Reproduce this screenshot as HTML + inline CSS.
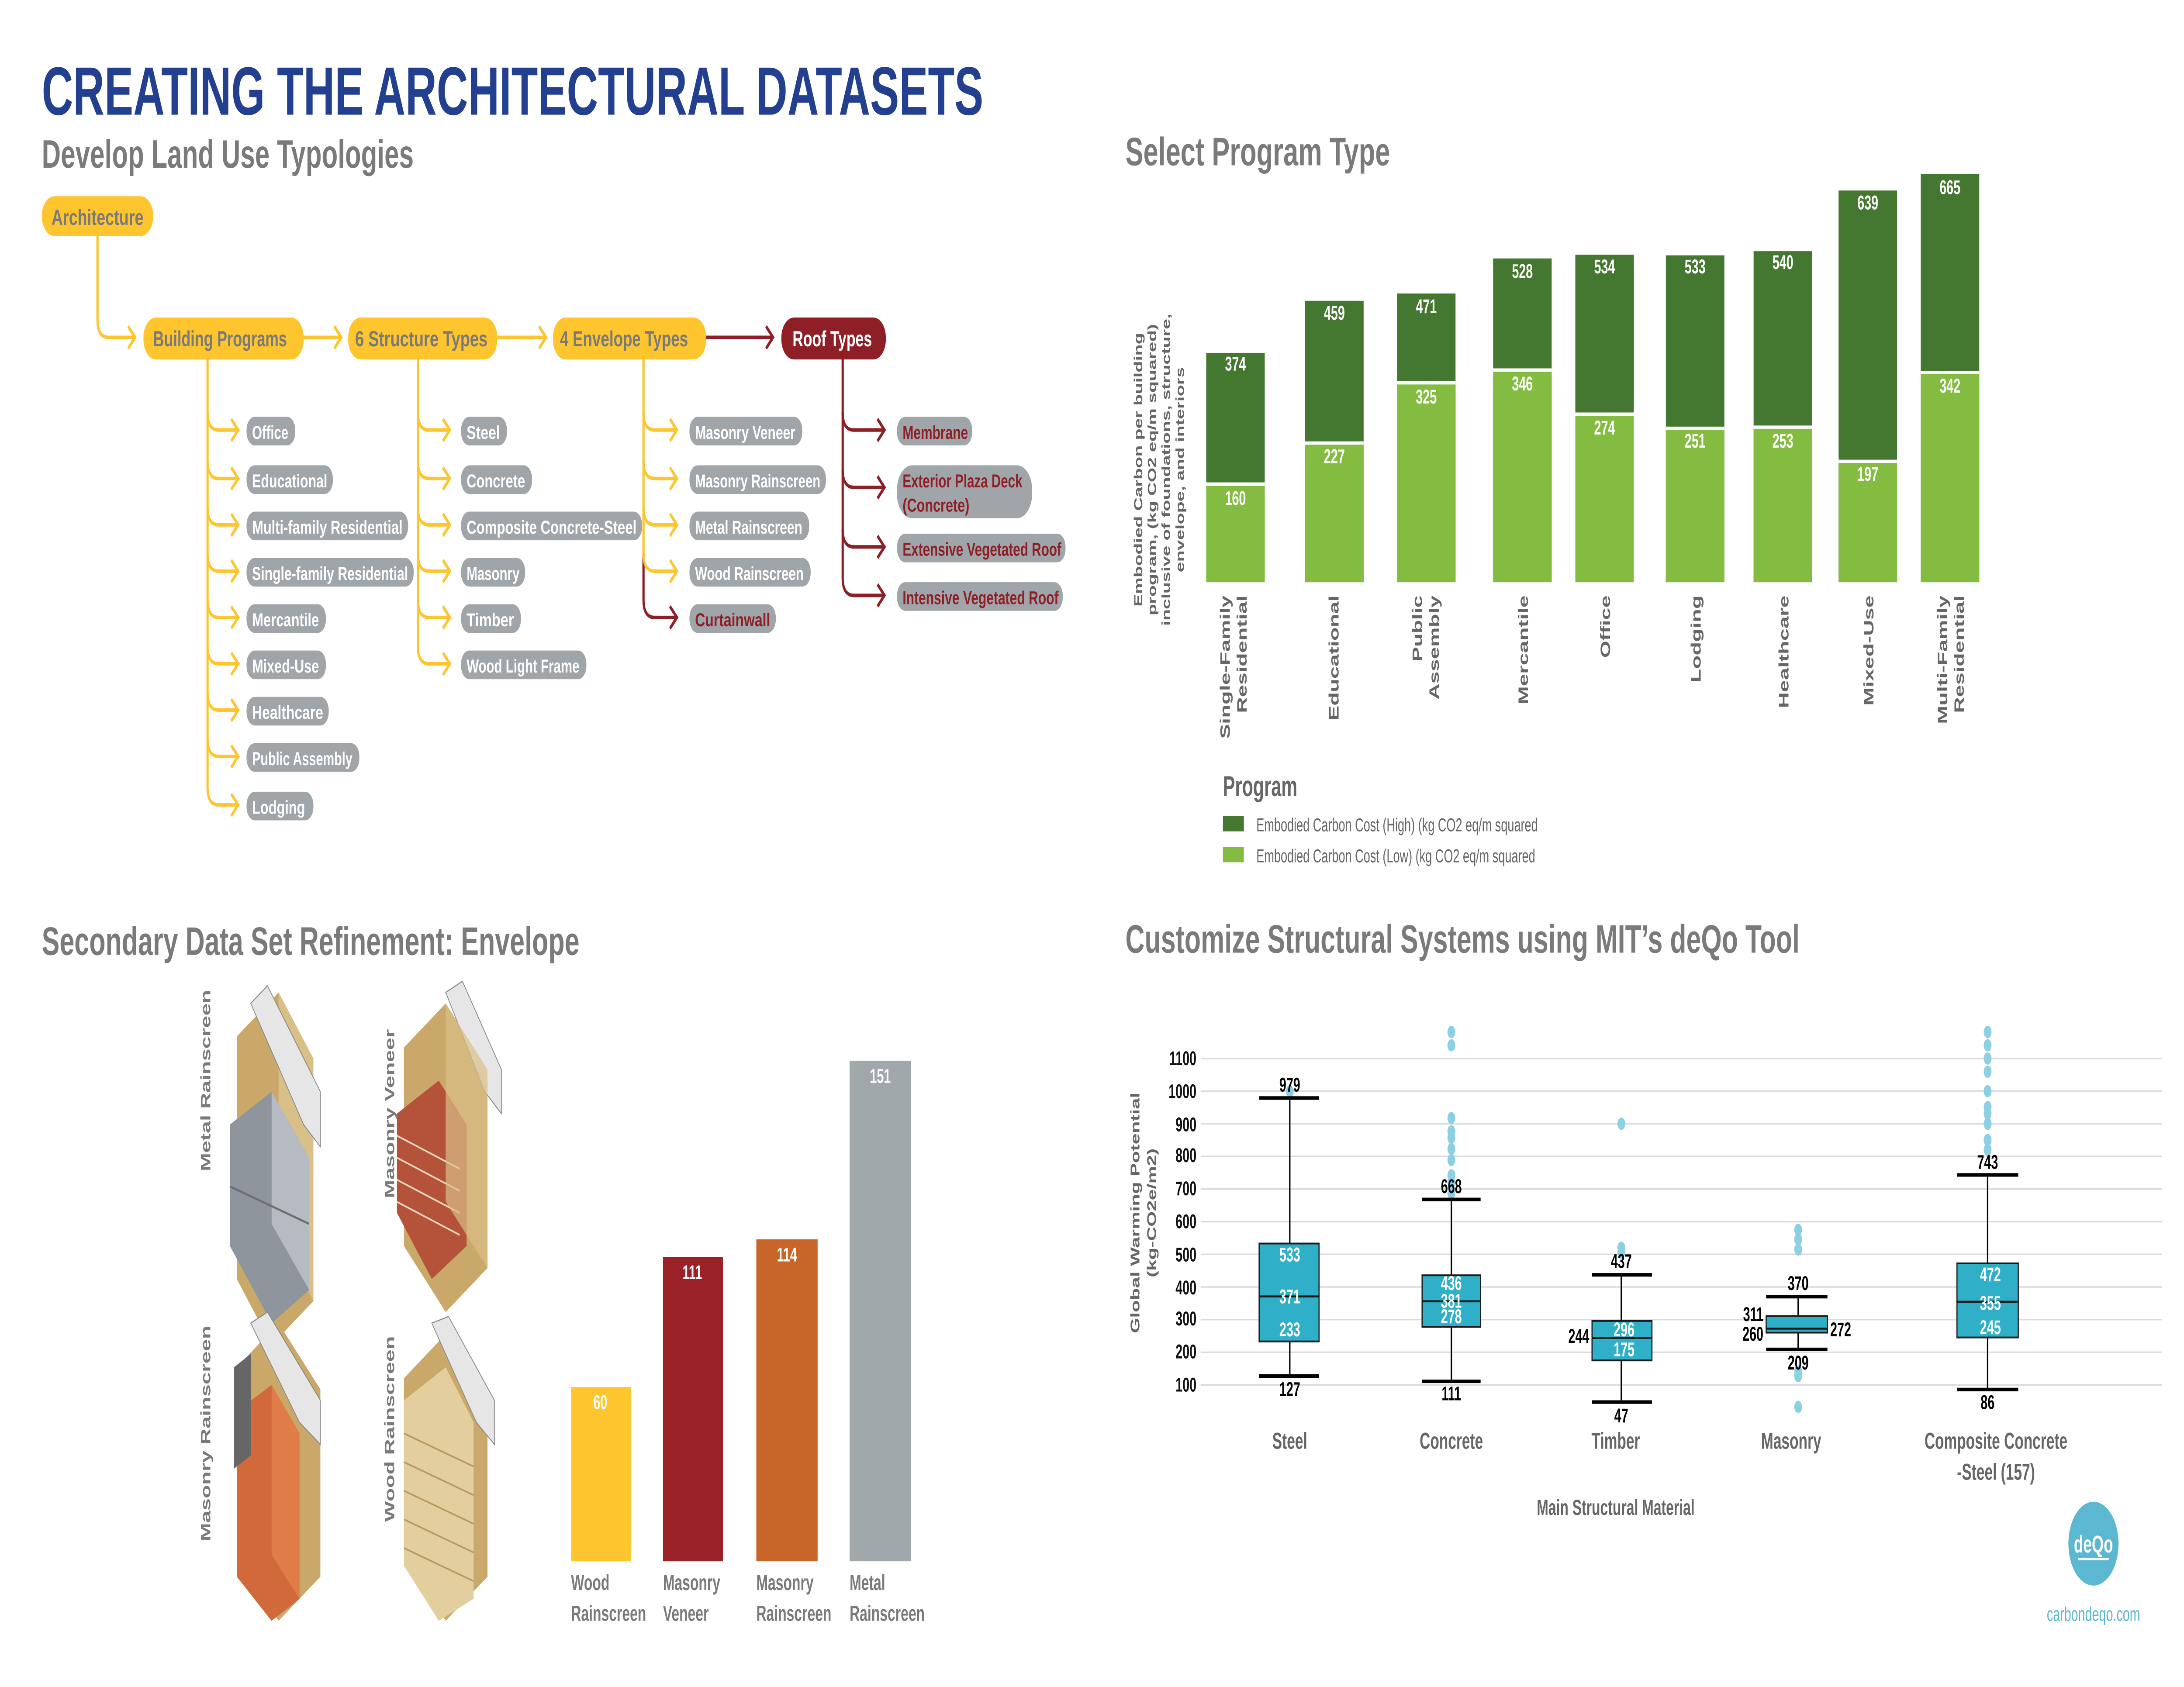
<!DOCTYPE html>
<html><head><meta charset="utf-8"><style>html,body{margin:0;padding:0;background:#fff;width:100vw;height:100vh;overflow:hidden}svg{display:block;position:absolute;left:0;top:0;width:100vw;height:100vh}</style></head>
<body>
<svg viewBox="0 0 1568 765" preserveAspectRatio="none" xmlns="http://www.w3.org/2000/svg" font-family="Liberation Sans, sans-serif" font-weight="bold">
<rect width="1568" height="765" fill="#fff"/>
<text x="30" y="52" font-size="31" fill="#233f8f" textLength="676" lengthAdjust="spacingAndGlyphs">CREATING THE ARCHITECTURAL DATASETS</text>
<text x="30" y="76" font-size="18" fill="#7a7a7a" textLength="267" lengthAdjust="spacingAndGlyphs">Develop Land Use Typologies</text>
<text x="808" y="75" font-size="18" fill="#7a7a7a" textLength="190" lengthAdjust="spacingAndGlyphs">Select Program Type</text>
<text x="30" y="433" font-size="18" fill="#7a7a7a" textLength="386" lengthAdjust="spacingAndGlyphs">Secondary Data Set Refinement: Envelope</text>
<text x="808" y="432" font-size="18" fill="#7a7a7a" textLength="484" lengthAdjust="spacingAndGlyphs">Customize Structural Systems using MIT’s deQo Tool</text>

<g fill="none" stroke-width="1.6">
<path d="M70 107 V145 Q70 153 78 153 H96" stroke="#fec52e"/><path d="M92 148 L97 153 L92 158" stroke="#fec52e"/>
<path d="M218 153 H244" stroke="#fec52e"/><path d="M240 148 L245 153 L240 158" stroke="#fec52e"/>
<path d="M357 153 H391" stroke="#fec52e"/><path d="M387 148 L392 153 L387 158" stroke="#fec52e"/>
<path d="M507 153 H554" stroke="#8e1f26"/><path d="M550 148 L555 153 L550 158" stroke="#8e1f26"/>
<path d="M149 162 V357" stroke="#fec52e"/>
<path d="M300 162 V293" stroke="#fec52e"/>
<path d="M462 162 V251" stroke="#fec52e"/>
<path d="M462 251 V272" stroke="#8e1f26"/>
<path d="M605 162 V262" stroke="#8e1f26"/>
</g>
<g fill="none" stroke-width="1.6" stroke="#fec52e">
<path d="M149 187 Q149 195 157 195 H170 M166 190 L171 195 L166 200"/>
<path d="M149 209 Q149 217 157 217 H170 M166 212 L171 217 L166 222"/>
<path d="M149 230 Q149 238 157 238 H170 M166 233 L171 238 L166 243"/>
<path d="M149 251 Q149 259 157 259 H170 M166 254 L171 259 L166 264"/>
<path d="M149 272 Q149 280 157 280 H170 M166 275 L171 280 L166 285"/>
<path d="M149 293 Q149 301 157 301 H170 M166 296 L171 301 L166 306"/>
<path d="M149 314 Q149 322 157 322 H170 M166 317 L171 322 L166 327"/>
<path d="M149 335 Q149 343 157 343 H170 M166 338 L171 343 L166 348"/>
<path d="M149 357 Q149 365 157 365 H170 M166 360 L171 365 L166 370"/>
<path d="M300 187 Q300 195 308 195 H322 M318 190 L323 195 L318 200"/>
<path d="M300 209 Q300 217 308 217 H322 M318 212 L323 217 L318 222"/>
<path d="M300 230 Q300 238 308 238 H322 M318 233 L323 238 L318 243"/>
<path d="M300 251 Q300 259 308 259 H322 M318 254 L323 259 L318 264"/>
<path d="M300 272 Q300 280 308 280 H322 M318 275 L323 280 L318 285"/>
<path d="M300 293 Q300 301 308 301 H322 M318 296 L323 301 L318 306"/>
<path d="M462 187 Q462 195 470 195 H485 M481 190 L486 195 L481 200"/>
<path d="M462 209 Q462 217 470 217 H485 M481 212 L486 217 L481 222"/>
<path d="M462 230 Q462 238 470 238 H485 M481 233 L486 238 L481 243"/>
<path d="M462 251 Q462 259 470 259 H485 M481 254 L486 259 L481 264"/>
</g>
<g fill="none" stroke-width="1.6" stroke="#8e1f26">
<path d="M462 272 Q462 280 470 280 H485 M481 275 L486 280 L481 285"/>
<path d="M605 187 Q605 195 613 195 H634 M630 190 L635 195 L630 200"/>
<path d="M605 213 Q605 221 613 221 H634 M630 216 L635 221 L630 226"/>
<path d="M605 240 Q605 248 613 248 H634 M630 243 L635 248 L630 253"/>
<path d="M605 262 Q605 270 613 270 H634 M630 265 L635 270 L630 275"/>
</g>
<g font-size="10">
<rect x="30" y="89" width="80" height="18" rx="9" fill="#fec52e"/><text x="37" y="102" fill="#7a7a7a" textLength="66" lengthAdjust="spacingAndGlyphs">Architecture</text>
<rect x="103" y="144" width="115" height="19" rx="9" fill="#fec52e"/><text x="110" y="157" fill="#7a7a7a" textLength="96" lengthAdjust="spacingAndGlyphs">Building Programs</text>
<rect x="250" y="144" width="107" height="19" rx="9" fill="#fec52e"/><text x="255" y="157" fill="#7a7a7a" textLength="95" lengthAdjust="spacingAndGlyphs">6 Structure Types</text>
<rect x="397" y="144" width="110" height="19" rx="9" fill="#fec52e"/><text x="402" y="157" fill="#7a7a7a" textLength="92" lengthAdjust="spacingAndGlyphs">4 Envelope Types</text>
<rect x="561" y="144" width="75" height="19" rx="9" fill="#8e1f26"/><text x="569" y="157" fill="#fff" textLength="57" lengthAdjust="spacingAndGlyphs">Roof Types</text>
</g>
<g font-size="8.5" fill="#fff">
<g fill="#a0a5aa">
<rect x="177" y="189" width="35" height="13" rx="6"/><rect x="177" y="211" width="62" height="13" rx="6"/><rect x="177" y="232" width="116" height="13" rx="6"/><rect x="177" y="253" width="120" height="13" rx="6"/><rect x="177" y="274" width="57" height="13" rx="6"/><rect x="177" y="295" width="57" height="13" rx="6"/><rect x="177" y="316" width="59" height="13" rx="6"/><rect x="177" y="337" width="81" height="13" rx="6"/><rect x="177" y="359" width="48" height="13" rx="6"/>
<rect x="331" y="189" width="33" height="13" rx="6"/><rect x="331" y="211" width="51" height="13" rx="6"/><rect x="331" y="232" width="130" height="13" rx="6"/><rect x="331" y="253" width="46" height="13" rx="6"/><rect x="331" y="274" width="43" height="13" rx="6"/><rect x="331" y="295" width="90" height="13" rx="6"/>
<rect x="495" y="189" width="81" height="13" rx="6"/><rect x="495" y="211" width="98" height="13" rx="6"/><rect x="495" y="232" width="86" height="13" rx="6"/><rect x="495" y="253" width="87" height="13" rx="6"/><rect x="495" y="274" width="62" height="13" rx="6"/>
<rect x="644" y="189" width="54" height="13" rx="6"/><rect x="644" y="211" width="97" height="24" rx="11"/><rect x="644" y="242" width="121" height="13" rx="6"/><rect x="644" y="264" width="119" height="13" rx="6"/>
</g>
<text x="181" y="199" textLength="26" lengthAdjust="spacingAndGlyphs">Office</text>
<text x="181" y="221" textLength="54" lengthAdjust="spacingAndGlyphs">Educational</text>
<text x="181" y="242" textLength="108" lengthAdjust="spacingAndGlyphs">Multi-family Residential</text>
<text x="181" y="263" textLength="112" lengthAdjust="spacingAndGlyphs">Single-family Residential</text>
<text x="181" y="284" textLength="48" lengthAdjust="spacingAndGlyphs">Mercantile</text>
<text x="181" y="305" textLength="48" lengthAdjust="spacingAndGlyphs">Mixed-Use</text>
<text x="181" y="326" textLength="51" lengthAdjust="spacingAndGlyphs">Healthcare</text>
<text x="181" y="347" textLength="72" lengthAdjust="spacingAndGlyphs">Public Assembly</text>
<text x="181" y="369" textLength="38" lengthAdjust="spacingAndGlyphs">Lodging</text>
<text x="335" y="199" textLength="24" lengthAdjust="spacingAndGlyphs">Steel</text>
<text x="335" y="221" textLength="42" lengthAdjust="spacingAndGlyphs">Concrete</text>
<text x="335" y="242" textLength="122" lengthAdjust="spacingAndGlyphs">Composite Concrete-Steel</text>
<text x="335" y="263" textLength="38" lengthAdjust="spacingAndGlyphs">Masonry</text>
<text x="335" y="284" textLength="34" lengthAdjust="spacingAndGlyphs">Timber</text>
<text x="335" y="305" textLength="81" lengthAdjust="spacingAndGlyphs">Wood Light Frame</text>
<text x="499" y="199" textLength="72" lengthAdjust="spacingAndGlyphs">Masonry Veneer</text>
<text x="499" y="221" textLength="90" lengthAdjust="spacingAndGlyphs">Masonry Rainscreen</text>
<text x="499" y="242" textLength="77" lengthAdjust="spacingAndGlyphs">Metal Rainscreen</text>
<text x="499" y="263" textLength="78" lengthAdjust="spacingAndGlyphs">Wood Rainscreen</text>
<g fill="#8e1f26">
<text x="499" y="284" textLength="54" lengthAdjust="spacingAndGlyphs">Curtainwall</text>
<text x="648" y="199" textLength="47" lengthAdjust="spacingAndGlyphs">Membrane</text>
<text x="648" y="221" textLength="86" lengthAdjust="spacingAndGlyphs">Exterior Plaza Deck</text>
<text x="648" y="232" textLength="48" lengthAdjust="spacingAndGlyphs">(Concrete)</text>
<text x="648" y="252" textLength="114" lengthAdjust="spacingAndGlyphs">Extensive Vegetated Roof</text>
<text x="648" y="274" textLength="112" lengthAdjust="spacingAndGlyphs">Intensive Vegetated Roof</text>
</g>
</g>

<g>
<rect x="866" y="160" width="42" height="104" fill="#44772f"/><rect x="866" y="219.5" width="42" height="44.5" fill="#84bc41"/>
<rect x="937" y="136.4" width="42" height="127.6" fill="#44772f"/><rect x="937" y="200.9" width="42" height="63.1" fill="#84bc41"/>
<rect x="1003" y="133.1" width="42" height="130.9" fill="#44772f"/><rect x="1003" y="173.6" width="42" height="90.4" fill="#84bc41"/>
<rect x="1072" y="117.2" width="42" height="146.8" fill="#44772f"/><rect x="1072" y="167.8" width="42" height="96.2" fill="#84bc41"/>
<rect x="1131" y="115.5" width="42" height="148.5" fill="#44772f"/><rect x="1131" y="187.8" width="42" height="76.2" fill="#84bc41"/>
<rect x="1196" y="115.8" width="42" height="148.2" fill="#44772f"/><rect x="1196" y="194.2" width="42" height="69.8" fill="#84bc41"/>
<rect x="1259" y="113.9" width="42" height="150.1" fill="#44772f"/><rect x="1259" y="193.7" width="42" height="70.3" fill="#84bc41"/>
<rect x="1320" y="86.4" width="42" height="177.6" fill="#44772f"/><rect x="1320" y="209.2" width="42" height="54.8" fill="#84bc41"/>
<rect x="1379" y="79" width="42" height="185" fill="#44772f"/><rect x="1379" y="168.9" width="42" height="95.1" fill="#84bc41"/>
<g stroke="#fff" stroke-width="1.5">
<line x1="866" x2="908" y1="219.5" y2="219.5"/><line x1="937" x2="979" y1="200.9" y2="200.9"/><line x1="1003" x2="1045" y1="173.6" y2="173.6"/><line x1="1072" x2="1114" y1="167.8" y2="167.8"/><line x1="1131" x2="1173" y1="187.8" y2="187.8"/><line x1="1196" x2="1238" y1="194.2" y2="194.2"/><line x1="1259" x2="1301" y1="193.7" y2="193.7"/><line x1="1320" x2="1362" y1="209.2" y2="209.2"/><line x1="1379" x2="1421" y1="168.9" y2="168.9"/>
</g>
<g font-size="9" fill="#fff" text-anchor="middle">
<text x="887" y="168">374</text><text x="887" y="229">160</text>
<text x="958" y="145">459</text><text x="958" y="210">227</text>
<text x="1024" y="142">471</text><text x="1024" y="183">325</text>
<text x="1093" y="126">528</text><text x="1093" y="177">346</text>
<text x="1152" y="124">534</text><text x="1152" y="197">274</text>
<text x="1217" y="124">533</text><text x="1217" y="203">251</text>
<text x="1280" y="122">540</text><text x="1280" y="203">253</text>
<text x="1341" y="95">639</text><text x="1341" y="218">197</text>
<text x="1400" y="88">665</text><text x="1400" y="178">342</text>
</g>
<g font-size="10" fill="#666" text-anchor="end">
<text transform="translate(883,270) rotate(-90)">Single-Family</text><text transform="translate(895,270) rotate(-90)">Residential</text>
<text transform="translate(961,270) rotate(-90)">Educational</text>
<text transform="translate(1021,270) rotate(-90)">Public</text><text transform="translate(1033,270) rotate(-90)">Assembly</text>
<text transform="translate(1097,270) rotate(-90)">Mercantile</text>
<text transform="translate(1156,270) rotate(-90)">Office</text>
<text transform="translate(1221,270) rotate(-90)">Lodging</text>
<text transform="translate(1284,270) rotate(-90)">Healthcare</text>
<text transform="translate(1345,270) rotate(-90)">Mixed-Use</text>
<text transform="translate(1398,270) rotate(-90)">Multi-Family</text><text transform="translate(1410,270) rotate(-90)">Residential</text>
</g>
<g font-size="8.5" fill="#666" text-anchor="middle">
<text transform="translate(820,213) rotate(-90)">Embodied Carbon per building</text>
<text transform="translate(830,213) rotate(-90)">program, (kg CO2 eq/m squared)</text>
<text transform="translate(840,213) rotate(-90)">inclusive of foundations, structure,</text>
<text transform="translate(850,213) rotate(-90)">envelope, and interiors</text>
</g>
<text x="878" y="361" font-size="13" fill="#666">Program</text>
<rect x="878" y="370" width="15" height="7" fill="#44772f"/><rect x="878" y="384" width="15" height="7" fill="#84bc41"/>
<text x="902" y="377" font-size="8.5" fill="#666" font-weight="normal">Embodied Carbon Cost (High) (kg CO2 eq/m squared</text>
<text x="902" y="391" font-size="8.5" fill="#666" font-weight="normal">Embodied Carbon Cost (Low) (kg CO2 eq/m squared</text>
</g>

<g>
<g transform="translate(170,450)">
<polygon points="0,20 30,0 55,30 55,140 25,160 0,130" fill="#c9a86a"/>
<polygon points="30,0 55,30 55,140 30,110" fill="#d9bf88"/>
<polygon points="-5,60 25,45 52,75 52,135 25,150 -5,115" fill="#8e959c"/>
<polygon points="25,45 52,75 52,135 25,105" fill="#b5bbc0"/>
<line x1="-5" y1="88" x2="52" y2="105" stroke="#6b7075"/>
<polygon points="10,5 22,-3 60,45 60,70 48,60" fill="#e6e6e6" stroke="#888" stroke-width="0.5"/>
</g>
<text transform="translate(151,490) rotate(-90)" text-anchor="middle" font-size="10" fill="#7a7a7a">Metal Rainscreen</text>
<g transform="translate(290,450)">
<polygon points="0,25 30,5 60,35 60,125 30,145 0,115" fill="#c9a86a"/>
<polygon points="-5,55 25,40 45,60 45,115 20,130 -5,100" fill="#b5533a"/>
<g stroke="#e8d6c0" stroke-width="0.8"><line x1="-5" y1="65" x2="40" y2="80"/><line x1="-5" y1="75" x2="40" y2="90"/><line x1="-5" y1="85" x2="40" y2="100"/><line x1="-5" y1="95" x2="40" y2="110"/></g>
<polygon points="30,0 42,-5 70,35 70,55 58,45" fill="#e6e6e6" stroke="#888" stroke-width="0.5"/>
<polygon points="30,5 60,35 60,125 30,95" fill="#d9bf88" opacity="0.7"/>
</g>
<text transform="translate(283,505) rotate(-90)" text-anchor="middle" font-size="10" fill="#7a7a7a">Masonry Veneer</text>
<g transform="translate(170,600)">
<polygon points="0,20 30,0 60,30 60,115 30,135 0,105" fill="#c9a86a"/>
<polygon points="0,40 25,28 45,50 45,125 25,135 0,115" fill="#d2693a"/>
<polygon points="25,28 45,50 45,125 25,105" fill="#e07c48"/>
<polygon points="10,0 22,-5 60,35 60,55 45,45" fill="#e6e6e6" stroke="#888" stroke-width="0.5"/>
<polygon points="-2,20 10,14 10,60 -2,66" fill="#666"/>
</g>
<text transform="translate(151,650) rotate(-90)" text-anchor="middle" font-size="10" fill="#7a7a7a">Masonry Rainscreen</text>
<g transform="translate(290,605)">
<polygon points="0,20 30,0 60,30 60,110 30,130 0,100" fill="#c9a86a"/>
<polygon points="0,30 30,15 50,40 50,120 25,130 0,105" fill="#e3cf9e"/>
<g stroke="#b89a60" stroke-width="0.8"><line x1="0" y1="45" x2="50" y2="60"/><line x1="0" y1="58" x2="50" y2="73"/><line x1="0" y1="71" x2="50" y2="86"/><line x1="0" y1="84" x2="50" y2="99"/><line x1="0" y1="97" x2="50" y2="112"/></g>
<polygon points="20,-5 32,-8 65,30 65,50 52,40" fill="#e6e6e6" stroke="#888" stroke-width="0.5"/>
</g>
<text transform="translate(283,648) rotate(-90)" text-anchor="middle" font-size="10" fill="#7a7a7a">Wood Rainscreen</text>
</g>

<g>
<rect x="410" y="629" width="43" height="79" fill="#fec52e"/>
<rect x="476" y="570" width="43" height="138" fill="#9a2128"/>
<rect x="543" y="562" width="44" height="146" fill="#c8662a"/>
<rect x="610" y="481" width="44" height="227" fill="#a1a8ac"/>
<g font-size="9" fill="#fff" text-anchor="middle">
<text x="431" y="639">60</text><text x="497" y="580">111</text><text x="565" y="572">114</text><text x="632" y="491">151</text>
</g>
<g font-size="10" fill="#7a7a7a">
<text x="410" y="721">Wood</text><text x="410" y="735">Rainscreen</text>
<text x="476" y="721">Masonry</text><text x="476" y="735">Veneer</text>
<text x="543" y="721">Masonry</text><text x="543" y="735">Rainscreen</text>
<text x="610" y="721">Metal</text><text x="610" y="735">Rainscreen</text>
</g>
</g>

<g>
<g stroke="#dcdcdc" stroke-width="0.7">
<line x1="862" x2="1552" y1="628" y2="628"/><line x1="862" x2="1552" y1="613.2" y2="613.2"/><line x1="862" x2="1552" y1="598.4" y2="598.4"/><line x1="862" x2="1552" y1="583.6" y2="583.6"/><line x1="862" x2="1552" y1="568.8" y2="568.8"/><line x1="862" x2="1552" y1="554" y2="554"/><line x1="862" x2="1552" y1="539.2" y2="539.2"/><line x1="862" x2="1552" y1="524.4" y2="524.4"/><line x1="862" x2="1552" y1="509.6" y2="509.6"/><line x1="862" x2="1552" y1="494.8" y2="494.8"/><line x1="862" x2="1552" y1="480" y2="480"/>
</g>
<g font-size="9" fill="#111" text-anchor="end">
<text x="859" y="631">100</text><text x="859" y="616">200</text><text x="859" y="601">300</text><text x="859" y="587">400</text><text x="859" y="572">500</text><text x="859" y="557">600</text><text x="859" y="542">700</text><text x="859" y="527">800</text><text x="859" y="513">900</text><text x="859" y="498">1000</text><text x="859" y="483">1100</text>
</g>
<g fill="#8dd0e4">
<circle cx="926" cy="495" r="2.8"/>
<circle cx="1042" cy="468" r="2.8"/><circle cx="1042" cy="474" r="2.8"/><circle cx="1042" cy="507" r="2.8"/><circle cx="1042" cy="513" r="2.8"/><circle cx="1042" cy="516" r="2.8"/><circle cx="1042" cy="521" r="2.8"/><circle cx="1042" cy="526" r="2.8"/><circle cx="1042" cy="533" r="2.8"/><circle cx="1042" cy="536" r="2.8"/><circle cx="1042" cy="541" r="2.8"/>
<circle cx="1164" cy="509.6" r="2.8"/><circle cx="1164" cy="565.8" r="2.8"/><circle cx="1164" cy="568" r="2.8"/>
<circle cx="1291" cy="557.7" r="2.8"/><circle cx="1291" cy="562" r="2.8"/><circle cx="1291" cy="566.6" r="2.8"/><circle cx="1291" cy="622" r="2.8"/><circle cx="1291" cy="624" r="2.8"/><circle cx="1291" cy="638" r="2.8"/>
<circle cx="1427" cy="468" r="2.8"/><circle cx="1427" cy="474" r="2.8"/><circle cx="1427" cy="480" r="2.8"/><circle cx="1427" cy="486" r="2.8"/><circle cx="1427" cy="494.8" r="2.8"/><circle cx="1427" cy="502" r="2.8"/><circle cx="1427" cy="505" r="2.8"/><circle cx="1427" cy="509.6" r="2.8"/><circle cx="1427" cy="517" r="2.8"/><circle cx="1427" cy="521.4" r="2.8"/>
</g>
<g stroke="#000" stroke-width="1">
<line x1="926" x2="926" y1="498" y2="624"/><line x1="1042" x2="1042" y1="544" y2="626.4"/><line x1="1164" x2="1164" y1="578" y2="635.8"/><line x1="1291" x2="1291" y1="588" y2="612"/><line x1="1427" x2="1427" y1="533" y2="630"/>
</g>
<g fill="#2fafc8" stroke="#1a1a1a" stroke-width="0.8">
<rect x="904" y="563.9" width="43" height="44.4"/>
<rect x="1021" y="578.3" width="42" height="23.4"/>
<rect x="1143" y="599" width="43" height="17.9"/>
<rect x="1268" y="596.8" width="44" height="7.5"/>
<rect x="1405" y="572.9" width="44" height="33.6"/>
</g>
<g stroke="#1a1a1a" stroke-width="0.9">
<line x1="904" x2="947" y1="587.9" y2="587.9"/><line x1="1021" x2="1063" y1="590.1" y2="590.1"/><line x1="1143" x2="1186" y1="606.7" y2="606.7"/><line x1="1268" x2="1312" y1="602.5" y2="602.5"/><line x1="1405" x2="1449" y1="590.3" y2="590.3"/>
</g>
<g stroke="#000" stroke-width="1.6">
<line x1="904" x2="947" y1="497.9" y2="497.9"/><line x1="904" x2="947" y1="624" y2="624"/>
<line x1="1021" x2="1063" y1="543.9" y2="543.9"/><line x1="1021" x2="1063" y1="626.4" y2="626.4"/>
<line x1="1143" x2="1186" y1="578.1" y2="578.1"/><line x1="1143" x2="1186" y1="635.8" y2="635.8"/>
<line x1="1268" x2="1312" y1="588" y2="588"/><line x1="1268" x2="1312" y1="611.9" y2="611.9"/>
<line x1="1405" x2="1449" y1="532.8" y2="532.8"/><line x1="1405" x2="1449" y1="630.1" y2="630.1"/>
</g>
<g font-size="9" fill="#000" text-anchor="middle">
<text x="926" y="495">979</text><text x="926" y="633">127</text>
<text x="1042" y="541">668</text><text x="1042" y="635">111</text>
<text x="1164" y="575">437</text><text x="1164" y="645">47</text>
<text x="1291" y="585">370</text><text x="1291" y="621">209</text>
<text x="1427" y="530">743</text><text x="1427" y="639">86</text>
<text x="1141" y="609" text-anchor="end">244</text>
<text x="1266" y="599" text-anchor="end">311</text><text x="1266" y="608" text-anchor="end">260</text>
<text x="1314" y="606" text-anchor="start">272</text>
</g>
<g font-size="9" fill="#fff" text-anchor="middle">
<text x="926" y="572">533</text><text x="926" y="591">371</text><text x="926" y="606">233</text>
<text x="1042" y="585">436</text><text x="1042" y="593">381</text><text x="1042" y="600">278</text>
<text x="1166" y="606">296</text><text x="1166" y="615">175</text>
<text x="1429" y="581">472</text><text x="1429" y="594">355</text><text x="1429" y="605">245</text>
</g>
<g font-size="10.5" fill="#666" text-anchor="middle">
<text x="926" y="657">Steel</text><text x="1042" y="657">Concrete</text><text x="1160" y="657">Timber</text><text x="1286" y="657">Masonry</text>
<text x="1433" y="657">Composite Concrete</text><text x="1433" y="671">-Steel (157)</text>
<text x="1160" y="687" font-size="10">Main Structural Material</text>
</g>
<g font-size="9" fill="#666" text-anchor="middle">
<text transform="translate(818,550) rotate(-90)">Global Warming Potential</text>
<text transform="translate(830,550) rotate(-90)">(kg-CO2e/m2)</text>
</g>
<ellipse cx="1503" cy="700" rx="18" ry="19" fill="#5bb8d0"/>
<text x="1503" y="704" font-size="11" fill="#fff" text-anchor="middle">deQo</text>
<line x1="1492" y1="707" x2="1514" y2="707" stroke="#fff" stroke-width="1"/>
<text x="1503" y="735" font-size="9" fill="#5bb8d0" text-anchor="middle" font-weight="normal">carbondeqo.com</text>
</g>
</svg>
</body></html>
